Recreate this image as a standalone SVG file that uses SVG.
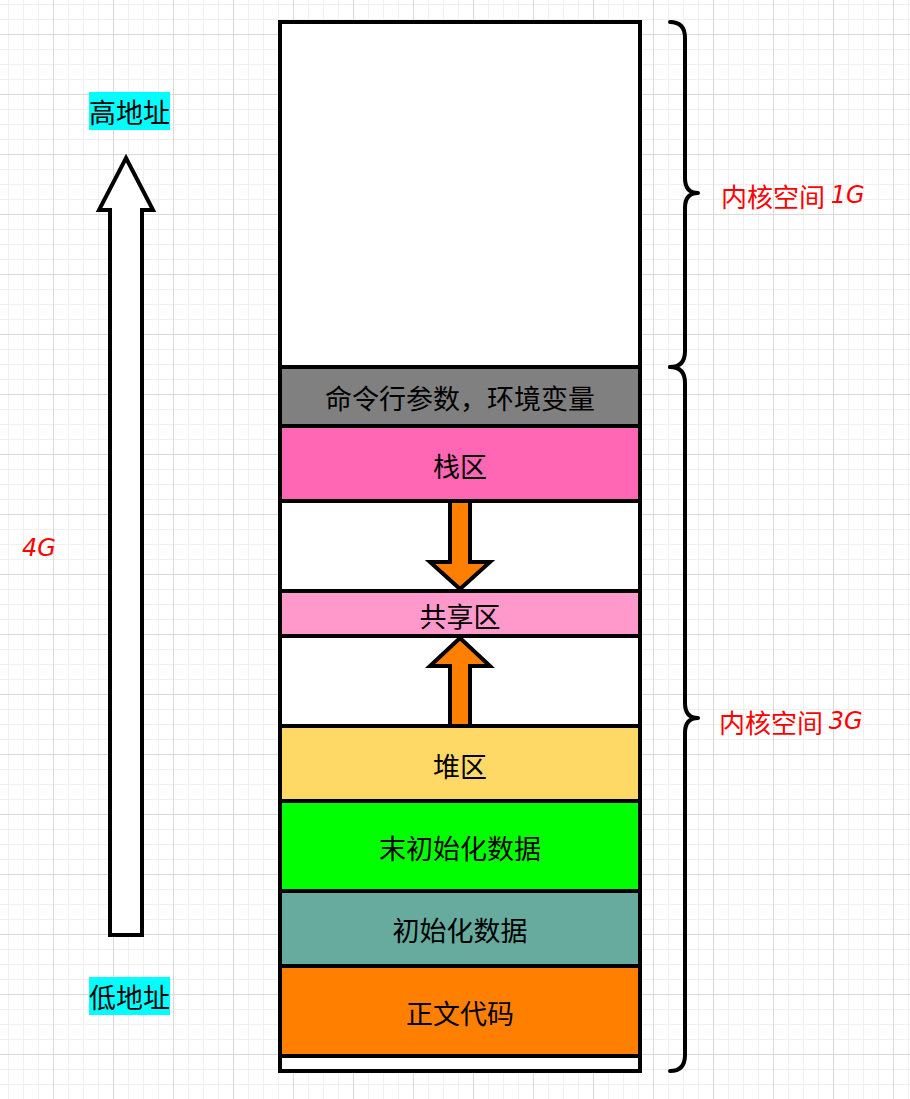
<svg xmlns="http://www.w3.org/2000/svg" width="910" height="1099" viewBox="0 0 910 1099">
<style>
.box{stroke:#000;stroke-width:4}
.lbl{font-family:"Noto Sans CJK SC","Noto Sans",sans-serif;font-size:27px;fill:#000;text-anchor:middle;dominant-baseline:central}
.red{font-family:"Noto Sans CJK SC","Noto Sans",sans-serif;font-size:26px;fill:#FF0000;dominant-baseline:central}
.num{font-family:"DejaVu Sans","Noto Sans",sans-serif;font-style:italic;font-size:24px}
.brace{fill:none;stroke:#000;stroke-width:4;stroke-linecap:round;stroke-linejoin:round}
.arr{stroke:#000;stroke-width:4;stroke-linejoin:miter}
</style>
<defs>
<pattern id="grid" x="53" y="34" width="60" height="60" patternUnits="userSpaceOnUse">
<rect width="60" height="60" fill="#fff"/>
<g fill="#f0f0f0">
<rect x="15" y="0" width="1" height="60"/><rect x="30" y="0" width="1" height="60"/><rect x="45" y="0" width="1" height="60"/>
<rect x="0" y="15" width="60" height="1"/><rect x="0" y="30" width="60" height="1"/><rect x="0" y="45" width="60" height="1"/>
</g>
<g fill="#d9d9d9">
<rect x="0" y="0" width="1" height="60"/><rect x="0" y="0" width="60" height="1"/>
</g>
</pattern>
</defs>
<rect width="910" height="1099" fill="url(#grid)"/>

<g id="memory">
<rect id="outer" class="box" x="280" y="22" width="360" height="1049" fill="#fff"/>
<g id="cmdline"><rect class="box" x="280" y="367" width="360" height="59" fill="#808080"/><text class="lbl" x="460" y="397">命令行参数，环境变量</text></g>
<g id="stack"><rect class="box" x="280" y="426" width="360" height="75" fill="#FF66B3"/><text class="lbl" x="460" y="465">栈区</text></g>
<g id="gap1"><rect class="box" x="280" y="501" width="360" height="90" fill="#fff"/></g>
<g id="shared"><rect class="box" x="280" y="591" width="360" height="45" fill="#FF99CC"/><text class="lbl" x="460" y="615">共享区</text></g>
<g id="gap2"><rect class="box" x="280" y="636" width="360" height="90" fill="#fff"/></g>
<g id="heap"><rect class="box" x="280" y="726" width="360" height="75" fill="#FFD966"/><text class="lbl" x="460" y="765">堆区</text></g>
<g id="bss"><rect class="box" x="280" y="801" width="360" height="90" fill="#00FF00"/><text class="lbl" x="460" y="847">末初始化数据</text></g>
<g id="data"><rect class="box" x="280" y="891" width="360" height="75" fill="#67AB9F"/><text class="lbl" x="460" y="929">初始化数据</text></g>
<g id="text"><rect class="box" x="280" y="966" width="360" height="90" fill="#FF8000"/><text class="lbl" x="460" y="1012">正文代码</text></g>
</g>

<g id="connectors">
<polygon id="down-arrow" class="arr" fill="#FF8000" points="450,501 470,501 470,562 490,562 460,589 430,562 450,562"/>
<polygon id="up-arrow" class="arr" fill="#FF8000" points="450,726 470,726 470,666 490,666 460,638 430,666 450,666"/>
<polygon id="addr-arrow" class="arr" fill="#fff" points="126,158 153,210 142,210 142,935 110,935 110,210 99,210"/>
<path id="brace-1g" class="brace" d="M670,22 Q685,22 685,38 L685,178 Q685,193 698,193 Q685,193 685,208 L685,351 Q685,367 670,367"/>
<path id="brace-3g" class="brace" d="M670,367 Q685,367 685,383 L685,703 Q685,718 698,718 Q685,718 685,733 L685,1055 Q685,1071 670,1071"/>
</g>

<g id="high-addr"><rect x="89" y="92" width="81" height="38" fill="#00FFFF"/><text class="lbl" x="129.5" y="111">高地址</text></g>
<g id="low-addr"><rect x="89" y="977" width="81" height="38" fill="#00FFFF"/><text class="lbl" x="129.5" y="996">低地址</text></g>
<g id="label-4g"><text class="red" x="22" y="548"><tspan class="num">4G</tspan></text></g>
<g id="label-1g"><text class="red" x="721" y="195">内核空间 <tspan class="num">1G</tspan></text></g>
<g id="label-3g"><text class="red" x="719" y="721">内核空间 <tspan class="num">3G</tspan></text></g>
</svg>
